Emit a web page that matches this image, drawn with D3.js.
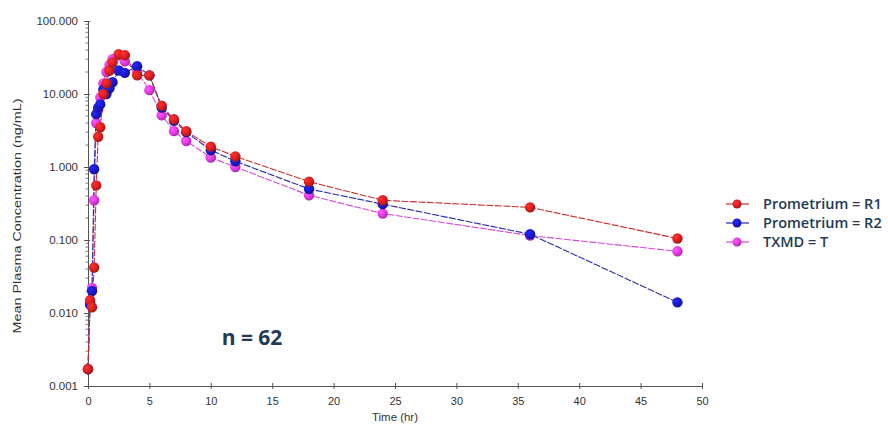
<!DOCTYPE html>
<html>
<head>
<meta charset="utf-8">
<script src="https://cdn.jsdelivr.net/npm/d3@7"></script>
<style>
  html, body { margin: 0; padding: 0; background: #fff; }
  svg { display: block; }
</style>
</head>
<body>
<svg id="chart" width="888" height="428"></svg>
<script>
// ---- data ----
const times = [0, 0.17, 0.33, 0.5, 0.67, 0.83, 1, 1.25, 1.5, 1.75, 2, 2.5, 3, 4, 5, 6, 7, 8, 10, 12, 18, 24, 36, 48];
const prometriumR1 = [0.0017, 0.015, 0.012, 0.042, 0.56, 2.6, 3.5, 10, 14, 21, 27, 35, 34, 18, 18, 6.9, 4.5, 3.1, 1.9, 1.4, 0.63, 0.35, 0.28, 0.105];
const prometriumR2 = [0.0017, 0.013, 0.02, 0.93, 5.3, 6.5, 7.2, 11.5, 10, 12, 14.5, 21, 19.5, 24, 18, 6.5, 4.3, 3.0, 1.7, 1.2, 0.5, 0.31, 0.12, 0.014];
const txmdT = [0.0017, 0.014, 0.022, 0.35, 4.0, 6.0, 9, 14, 20, 25, 30, 34, 28, 20, 11.3, 5.1, 3.1, 2.27, 1.35, 1.0, 0.41, 0.23, 0.115, 0.07];
const seriesNames = ["Prometrium = R1", "Prometrium = R2", "TXMD = T"];
const seriesColors = ["#e02020", "#1a1ad0", "#e83ae8"];
const lineColors = ["#c83030", "#2a2ab0", "#d848d8"];
const xTicks = [0, 5, 10, 15, 20, 25, 30, 35, 40, 45, 50];
const yTicks = [0.001, 0.01, 0.1, 1, 10, 100];
const yTickLabels = ["0.001", "0.010", "0.100", "1.000", "10.000", "100.000"];

const seriesValues = [prometriumR1, prometriumR2, txmdT];

// ---- layout ----
const svg = d3.select("#chart");
const mLeft = 88, mRight = 702, mTop = 21, mBottom = 386;
const font = "Liberation Sans, Arial, sans-serif";

const x = d3.scaleLinear().domain([0, 50]).range([mLeft, mRight]);
const y = d3.scaleLog().domain([0.001, 100]).range([mBottom, mTop]);

// gradients for shaded balls
const defs = svg.append("defs");
seriesColors.forEach((c, i) => {
  const g = defs.append("radialGradient").attr("id", "ball" + i)
    .attr("cx", "35%").attr("cy", "35%").attr("r", "65%");
  g.append("stop").attr("offset", "0%").attr("stop-color", d3.color(c).brighter(1.2));
  g.append("stop").attr("offset", "55%").attr("stop-color", c);
  g.append("stop").attr("offset", "100%").attr("stop-color", d3.color(c).darker(0.8));
});

const axisColor = "#555";
const textColor = "#333";

// x axis
const xAxis = svg.append("g").attr("transform", `translate(0,${mBottom})`)
  .call(d3.axisBottom(x).tickValues(xTicks).tickSize(3).tickSizeOuter(0).tickPadding(8).tickFormat(d3.format("d")));
xAxis.select(".domain").attr("stroke", axisColor);
xAxis.selectAll(".tick line").attr("stroke", axisColor).attr("y1", -3).attr("y2", 3);
xAxis.selectAll(".tick text").attr("fill", textColor).attr("font-family", font).attr("font-size", 11);

// y axis
const yAxis = svg.append("g").attr("transform", `translate(${mLeft},0)`)
  .call(d3.axisLeft(y).tickValues(yTicks).tickSize(4).tickSizeOuter(0).tickPadding(6)
    .tickFormat((d, i) => yTickLabels[i]));
yAxis.select(".domain").attr("stroke", axisColor);
yAxis.selectAll(".tick line").attr("stroke", axisColor).attr("x2", -4).attr("x1", 2);
yAxis.selectAll(".tick text").attr("fill", textColor).attr("font-family", font).attr("font-size", 11.5);

// minor log ticks
const minor = [];
for (let e = -3; e < 2; e++) for (let m = 2; m <= 9; m++) minor.push(m * Math.pow(10, e));
svg.append("g").selectAll("line").data(minor).join("line")
  .attr("x1", mLeft - 2.5).attr("x2", mLeft + 1)
  .attr("y1", d => y(d)).attr("y2", d => y(d))
  .attr("stroke", axisColor).attr("stroke-width", 0.8);

// axis titles
svg.append("text").attr("x", 395).attr("y", 421)
  .attr("text-anchor", "middle").attr("fill", textColor)
  .attr("font-family", font).attr("font-size", 10.5)
  .attr("textLength", 46).attr("lengthAdjust", "spacingAndGlyphs")
  .text("Time (hr)");
svg.append("text").attr("transform", "translate(21,216) rotate(-90)")
  .attr("text-anchor", "middle").attr("fill", textColor)
  .attr("font-family", font).attr("font-size", 11)
  .attr("textLength", 235).attr("lengthAdjust", "spacingAndGlyphs")
  .text("Mean Plasma Concentration (ng/mL)");

// lines and points (red drawn on top)
const line = d3.line().x(d => x(d[0])).y(d => y(d[1]));
const order = [2, 1, 0];
order.forEach(i => {
  const pts = times.map((t, j) => [t, seriesValues[i][j]]);
  svg.append("path").datum(pts).attr("d", line)
    .attr("fill", "none").attr("stroke", lineColors[i]).attr("stroke-width", 1.1)
    .attr("stroke-dasharray", "7,1.5");
});
order.forEach(i => {
  const pts = times.map((t, j) => [t, seriesValues[i][j]]);
  svg.append("g").selectAll("circle").data(pts).join("circle")
    .attr("cx", d => x(d[0])).attr("cy", d => y(d[1])).attr("r", 5.2)
    .attr("fill", `url(#ball${i})`);
});

// n = 62 annotation
svg.append("text").attr("x", 252).attr("y", 345).attr("text-anchor", "middle")
  .attr("fill", "#223a55").attr("font-family", "Open Sans, Liberation Sans, sans-serif")
  .attr("font-weight", "bold").attr("font-size", 21).text("n = 62");

// legend
const legend = svg.append("g");
seriesNames.forEach((name, i) => {
  const ly = 204 + i * 19;
  legend.append("line").attr("x1", 726).attr("x2", 749).attr("y1", ly).attr("y2", ly)
    .attr("stroke", lineColors[i]).attr("stroke-width", 1.2);
  legend.append("circle").attr("cx", 737).attr("cy", ly).attr("r", 4.5).attr("fill", `url(#ball${i})`);
  legend.append("text").attr("x", 763).attr("y", ly + 5).attr("fill", "#223a55")
    .attr("font-family", "Open Sans, Liberation Sans, sans-serif").attr("font-weight", 600)
    .attr("font-size", 14.5).text(name);
});
</script>
</body>
</html>
